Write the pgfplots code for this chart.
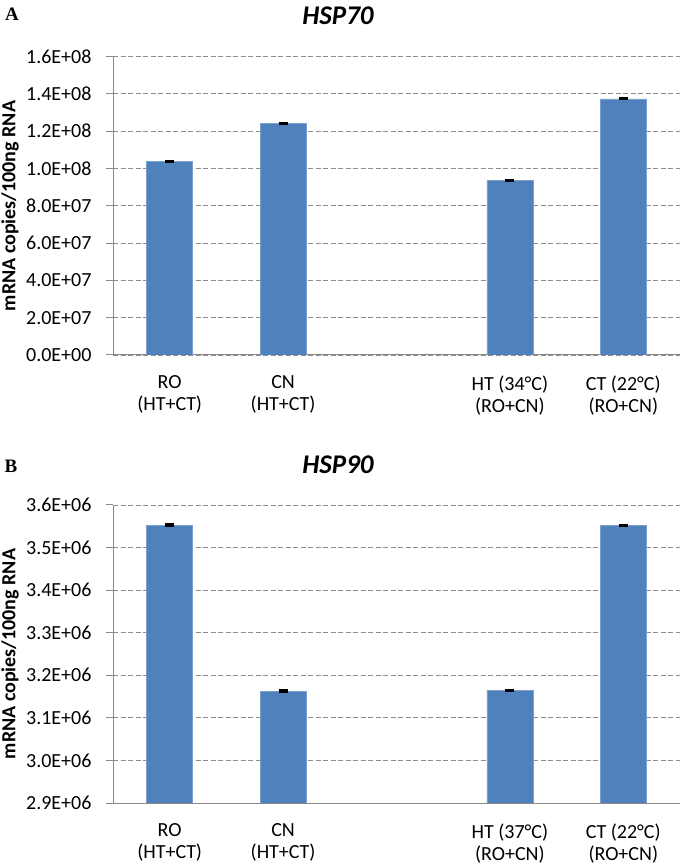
\documentclass[border=0pt]{standalone}
\usepackage{fontspec}
\setmainfont{Carlito}
\newfontfamily\timesfont{Liberation Serif}
\usepackage{pgfplots}
\pgfplotsset{compat=1.18}
\definecolor{barblue}{HTML}{4F81BD}
\definecolor{axgray}{HTML}{888888}
\definecolor{gridgray}{HTML}{8C8C8C}
\pgfplotsset{
  panel/.style={
    scale only axis, width=567bp, height=298bp,
    xmin=-0.5, xmax=4.5,
    ybar, bar width=46bp,
    axis x line*=bottom, axis y line*=left,
    axis line style={axgray, line width=1bp},
    xtick={0,1,3,4},
    xtick style={draw=none},
    ytick style={axgray, line width=1bp},
    tick align=outside, major tick length=7bp,
    scaled y ticks=false,
    ymajorgrids,
    major grid style={gridgray, line width=0.9bp, dash pattern=on 5bp off 2.5bp},
    tick label style={font=\fontsize{20bp}{22bp}\selectfont, text=black},
    xticklabel style={align=center, yshift=-10bp},
    yticklabel style={xshift=-11bp},
  },
  barstyle/.style={fill=barblue, draw=barblue!75!white, line width=0.6bp,
    error bars/.cd, y dir=both, y explicit,
    error bar style={black, line width=0.8bp},
    error mark options={black, line width=1.8bp, mark size=4.5bp, rotate=90}},
}
\begin{document}
\begin{tikzpicture}
\begin{axis}[panel, at={(113bp,511bp)}, anchor=south west, height=298.4bp,
  ymin=0, ymax=1.6e8,
  ytick={0,2e7,4e7,6e7,8e7,1e8,1.2e8,1.4e8,1.6e8},
  yticklabels={0.0E+00,2.0E+07,4.0E+07,6.0E+07,8.0E+07,1.0E+08,1.2E+08,1.4E+08,1.6E+08},
  xticklabels={{RO\\(HT+CT)},{CN\\(HT+CT)},{HT (34°C)\\(RO+CN)},{CT (22°C)\\(RO+CN)}},
]
\addplot[barstyle] coordinates {
  (0,1.036e8) +- (0,3e5)
  (1,1.2416e8) +- (0,3e5)
  (3,0.935e8) +- (0,3e5)
  (4,1.373e8) +- (0,3e5)
};
\end{axis}
\begin{axis}[panel, at={(113bp,63bp)}, anchor=south west,
  ymin=2.9e6, ymax=3.6e6,
  ytick={2.9e6,3.0e6,3.1e6,3.2e6,3.3e6,3.4e6,3.5e6,3.6e6},
  yticklabels={2.9E+06,3.0E+06,3.1E+06,3.2E+06,3.3E+06,3.4E+06,3.5E+06,3.6E+06},
  xticklabels={{RO\\(HT+CT)},{CN\\(HT+CT)},{HT (37°C)\\(RO+CN)},{CT (22°C)\\(RO+CN)}},
]
\addplot[barstyle] coordinates {
  (0,3.5526e6) +- (0,2e3)
  (1,3.163e6) +- (0,2e3)
  (3,3.164e6) +- (0,2e3)
  (4,3.552e6) +- (0,2e3)
};
\end{axis}
\node[font=\bfseries\itshape\fontsize{27bp}{30bp}\selectfont] at (338bp,850bp) {HSP70};
\node[font=\bfseries\itshape\fontsize{27bp}{30bp}\selectfont] at (338bp,401bp) {HSP90};
\node[font=\timesfont\bfseries\fontsize{19bp}{22bp}\selectfont] at (12bp,852bp) {A};
\node[font=\timesfont\bfseries\fontsize{19bp}{22bp}\selectfont] at (11bp,400bp) {B};
\node[rotate=90, font=\bfseries\fontsize{20bp}{24bp}\selectfont] at (10bp,660bp) {mRNA copies/100ng RNA};
\node[rotate=90, font=\bfseries\fontsize{20bp}{24bp}\selectfont] at (10bp,212bp) {mRNA copies/100ng RNA};
\pgfresetboundingbox
\path[use as bounding box] (0,0) rectangle (681bp,866bp);
\end{tikzpicture}
\end{document}
